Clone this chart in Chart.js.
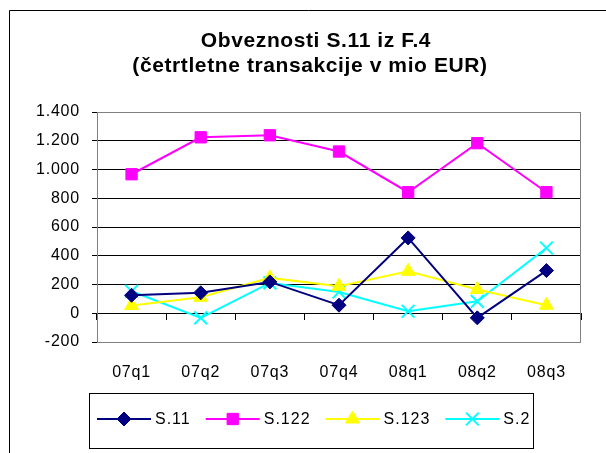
<!DOCTYPE html>
<html>
<head>
<meta charset="utf-8">
<script src="https://cdn.jsdelivr.net/npm/chart.js@4/dist/chart.umd.min.js"></script>
<style>
  html, body { margin: 0; padding: 0; background: #fff; }
  #wrap { width: 606px; height: 453px; position: relative; }
</style>
</head>
<body>
<div id="wrap"><canvas id="c" width="606" height="453"></canvas></div>
<script>
const titleLines = ['Obveznosti S.11 iz F.4', '(četrtletne transakcije v mio EUR)'];
const categories = ['07q1', '07q2', '07q3', '07q4', '08q1', '08q2', '08q3'];
const s11  = [125, 142, 218, 56, 524, -32, 297];
const s122 = [967, 1224, 1238, 1125, 842, 1183, 842];
const s123 = [54, 111, 246, 188, 292, 165, 56];
const s2   = [153, -32, 211, 148, 14, 83, 454];
const seriesNames = ['S.11', 'S.122', 'S.123', 'S.2'];
const yMin = -200, yMax = 1400, yStep = 200;

const FONT = '"Liberation Sans", Arial, sans-serif';

function fmtThousands(v) {
  const s = String(Math.abs(v)).replace(/\B(?=(\d{3})+(?!\d))/g, '.');
  return (v < 0 ? '-' : '') + s;
}

function mkDataset(label, data, color, style, radius) {
  return {
    label, data,
    borderColor: color, backgroundColor: color,
    pointBackgroundColor: color, pointBorderColor: color,
    borderWidth: 2, pointStyle: style, pointRadius: radius,
    pointHoverRadius: radius, pointBorderWidth: style === 'crossRot' ? 2 : 1,
    tension: 0, fill: false
  };
}

const frameAndTitle = {
  id: 'frameAndTitle',
  beforeDraw(chart) {
    const ctx = chart.ctx;
    ctx.save();
    ctx.fillStyle = '#fff';
    ctx.fillRect(0, 0, chart.width, chart.height);
    ctx.strokeStyle = '#000';
    ctx.lineWidth = 1;
    ctx.beginPath();
    ctx.moveTo(9.5, chart.height + 1);
    ctx.lineTo(9.5, 10.5);
    ctx.lineTo(chart.width + 1, 10.5);
    ctx.stroke();
    ctx.fillStyle = '#000';
    ctx.font = 'bold 21px ' + FONT;
    ctx.letterSpacing = '0.6px';
    ctx.textAlign = 'center';
    ctx.textBaseline = 'alphabetic';
    ctx.fillText(titleLines[0], 316, 47);
    ctx.fillText(titleLines[1], 310, 72);
    ctx.restore();
    // Excel-like slightly wider text spacing for axis labels
    ctx.letterSpacing = '0.8px';
  },
  beforeDatasetsDraw(chart) {
    const a = chart.chartArea, ctx = chart.ctx;
    ctx.save();
    ctx.strokeStyle = '#808080';
    ctx.lineWidth = 1;
    ctx.strokeRect(Math.round(a.left) + 0.5, Math.round(a.top) + 0.5,
                   Math.round(a.right - a.left) - 1, Math.round(a.bottom - a.top));
    ctx.restore();
  },
  afterDraw(chart) {
    const ctx = chart.ctx;
    ctx.save();
    const bx = 89.5, by = 393.5, bw = 444, bh = 55;
    ctx.strokeStyle = '#000';
    ctx.lineWidth = 1;
    ctx.strokeRect(bx, by, bw, bh);
    ctx.beginPath();
    ctx.rect(bx, by, bw, bh);
    ctx.clip();
    ctx.font = '16px ' + FONT;
    ctx.letterSpacing = '1px';
    ctx.textBaseline = 'middle';
    ctx.textAlign = 'left';
    let x = 97;
    const y = 419;
    chart.data.datasets.forEach(ds => {
      ctx.strokeStyle = ds.borderColor;
      ctx.lineWidth = 2;
      ctx.beginPath();
      ctx.moveTo(x, y);
      ctx.lineTo(x + 54, y);
      ctx.stroke();
      ctx.fillStyle = ds.backgroundColor;
      ctx.strokeStyle = ds.borderColor;
      ctx.lineWidth = ds.pointBorderWidth;
      Chart.helpers.drawPoint(ctx, {
        pointStyle: ds.pointStyle, rotation: 0,
        radius: ds.pointRadius, borderWidth: ds.pointBorderWidth
      }, x + 27, y);
      ctx.fillStyle = '#000';
      ctx.fillText(ds.label, x + 58, y + 1);
      x += 58 + ctx.measureText(ds.label).width + 15;
    });
    ctx.restore();
  }
};

new Chart(document.getElementById('c'), {
  type: 'line',
  data: {
    labels: categories,
    datasets: [
      mkDataset(seriesNames[0], s11, '#000080', 'rectRot', 7),
      mkDataset(seriesNames[1], s122, '#FF00FF', 'rect', 8),
      mkDataset(seriesNames[2], s123, '#FFFF00', 'triangle', 8),
      mkDataset(seriesNames[3], s2, '#00FFFF', 'crossRot', 9)
    ]
  },
  options: {
    responsive: false,
    animation: false,
    devicePixelRatio: 1,
    layout: { padding: { top: 112, right: 25, left: 0, bottom: 0 } },
    plugins: {
      legend: { display: false },
      title: { display: false },
      tooltip: { enabled: false }
    },
    scales: {
      x: {
        type: 'category',
        offset: true,
        grid: { display: false, drawTicks: false },
        border: { display: false },
        ticks: { color: '#000', font: { family: FONT, size: 16 }, padding: 21, maxRotation: 0, autoSkip: false },
        afterFit(scale) { scale.height = 111; }
      },
      x2: {
        type: 'category',
        position: { y: 0 },
        offset: true,
        grid: { display: true, offset: true, drawOnChartArea: false, drawTicks: true, tickLength: 6, color: '#000', lineWidth: 1 },
        border: { display: true, color: '#000', width: 1 },
        ticks: { display: false }
      },
      y: {
        min: yMin, max: yMax,
        grid: { color: '#000', lineWidth: 1, drawTicks: true, tickLength: 5, tickColor: '#000' },
        border: { display: true, color: '#000', width: 1 },
        ticks: {
          stepSize: yStep, color: '#000', padding: 12,
          font: { family: FONT, size: 16 },
          callback: v => fmtThousands(v)
        },
        afterFit(scale) { scale.width = 97; }
      }
    }
  },
  plugins: [frameAndTitle]
});
</script>
</body>
</html>
